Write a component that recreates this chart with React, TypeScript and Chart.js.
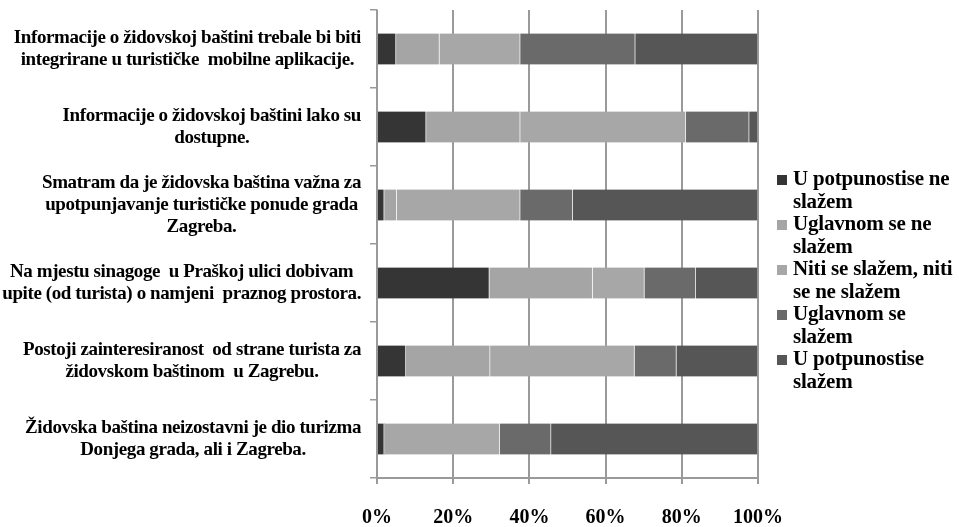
import React, { useEffect, useRef } from "react";
import { Chart, registerables } from "chart.js";

Chart.register(...registerables);

// Survey statements (category axis), each split over lines as printed
const statements: string[][] = [
  ["Informacije o židovskoj baštini trebale bi biti", "integrirane u turističke  mobilne aplikacije."],
  ["Informacije o židovskoj baštini lako su", "dostupne."],
  ["Smatram da je židovska baština važna za", "upotpunjavanje turističke ponude grada", "Zagreba."],
  ["Na mjestu sinagoge  u Praškoj ulici dobivam", "upite (od turista) o namjeni  praznog prostora."],
  ["Postoji zainteresiranost  od strane turista za", "židovskom baštinom  u Zagrebu."],
  ["Židovska baština neizostavni je dio turizma", "Donjega grada, ali i Zagreba."],
];

// Answer categories (legend), split over lines as printed
const answerLabels: string[][] = [
  ["U potpunostise ne", "slažem"],
  ["Uglavnom se ne", "slažem"],
  ["Niti se slažem, niti", "se ne slažem"],
  ["Uglavnom se", "slažem"],
  ["U potpunostise", "slažem"],
];

// Share of answers per statement, in percent
const stronglyDisagree = [5.0, 12.9, 1.9, 29.5, 7.6, 1.9];
const mostlyDisagree = [11.4, 24.7, 3.3, 27.1, 22.1, 0];
const neutral = [21.2, 43.5, 32.4, 13.6, 37.9, 30.3];
const mostlyAgree = [30.2, 16.6, 13.8, 13.5, 11.0, 13.5];
const stronglyAgree = [32.2, 2.3, 48.6, 16.3, 21.4, 54.3];

const percentTicks = [0, 20, 40, 60, 80, 100];

const seriesValues = [stronglyDisagree, mostlyDisagree, neutral, mostlyAgree, stronglyAgree];
const seriesColors = ["#353535", "#a5a5a5", "#a7a7a7", "#6a6a6a", "#565656"];

const SERIF = "'Liberation Serif', 'Times New Roman', serif";

// Statement labels: each block right-aligned to the axis, lines centred within the block
const statementLabelsPlugin = {
  id: "statementLabels",
  afterDraw(chart: any) {
    const { ctx } = chart;
    const yScale = chart.scales.y;
    ctx.save();
    ctx.font = `bold 19px ${SERIF}`;
    (ctx as any).letterSpacing = "-0.4px";
    ctx.fillStyle = "#000";
    ctx.textAlign = "center";
    ctx.textBaseline = "middle";
    const lineHeight = 22;
    const rightEdge = yScale.right - 16;
    statements.forEach((lines, i) => {
      const cy = yScale.getPixelForValue(i);
      const blockWidth = Math.max(...lines.map((l) => ctx.measureText(l).width));
      const cx = rightEdge - blockWidth / 2;
      const y0 = cy - ((lines.length - 1) * lineHeight) / 2;
      lines.forEach((l, k) => ctx.fillText(l, cx, y0 + k * lineHeight));
    });
    ctx.restore();
  },
};

// Legend at the right with wrapped entries
const wrappedLegendPlugin = {
  id: "wrappedLegend",
  afterDraw(chart: any) {
    const { ctx } = chart;
    const area = chart.chartArea;
    ctx.save();
    ctx.font = `bold 21px ${SERIF}`;
    (ctx as any).letterSpacing = "-0.2px";
    ctx.textAlign = "left";
    ctx.textBaseline = "middle";
    const x0 = area.right + 19;
    const lineHeight = 22.5;
    let y = 180;
    chart.data.datasets.forEach((ds: any, i: number) => {
      ctx.fillStyle = ds.backgroundColor;
      ctx.fillRect(x0, y - 5, 10, 10);
      ctx.fillStyle = "#000";
      const lines = answerLabels[i];
      lines.forEach((l, k) => ctx.fillText(l, x0 + 16, y + k * lineHeight));
      y += lines.length * lineHeight;
    });
    ctx.restore();
  },
};

export default function App() {
  const canvasRef = useRef<HTMLCanvasElement | null>(null);

  useEffect(() => {
    if (!canvasRef.current) return;
    const chart = new Chart(canvasRef.current, {
      type: "bar",
      data: {
        labels: statements.map((s) => s.join(" ")),
        datasets: seriesValues.map((values, i) => ({
          label: answerLabels[i].join(" "),
          data: values,
          backgroundColor: seriesColors[i],
          borderColor: "rgba(255,255,255,0.25)",
          borderWidth: { left: 0, right: 1, top: 0, bottom: 0 },
          borderSkipped: false,
          barThickness: 31,
        })),
      },
      options: {
        indexAxis: "y",
        responsive: false,
        animation: false,
        layout: { padding: { top: 10, right: 201, left: 0, bottom: 0 } },
        plugins: {
          legend: { display: false },
          tooltip: { enabled: false },
        },
        scales: {
          x: {
            type: "linear",
            stacked: true,
            min: 0,
            max: 100,
            afterBuildTicks(scale: any) {
              scale.ticks = percentTicks.map((v) => ({ value: v }));
            },
            afterFit(scale: any) {
              scale.height = 49;
            },
            ticks: {
              callback: (v: any) => `${v}%`,
              color: "#000",
              font: { family: SERIF, size: 20, weight: "bold" },
              padding: 22,
            },
            grid: {
              color: "#9a9a9a",
              lineWidth: 2,
              tickLength: 6,
            },
            border: { display: true, color: "#9a9a9a", width: 2 },
          },
          y: {
            type: "category",
            stacked: true,
            afterFit(scale: any) {
              scale.width = 377;
            },
            ticks: { display: false },
            grid: {
              drawOnChartArea: false,
              offset: true,
              color: "#9a9a9a",
              lineWidth: 1.5,
              tickLength: 7,
            },
            border: { display: true, color: "#9a9a9a", width: 1.5 },
          },
        },
      },
      plugins: [statementLabelsPlugin, wrappedLegendPlugin],
    });
    return () => chart.destroy();
  }, []);

  return (
    <div style={{ position: "absolute", left: 0, top: 0, width: 959, height: 527, background: "#fff" }}>
      <canvas ref={canvasRef} width={959} height={527} />
    </div>
  );
}
